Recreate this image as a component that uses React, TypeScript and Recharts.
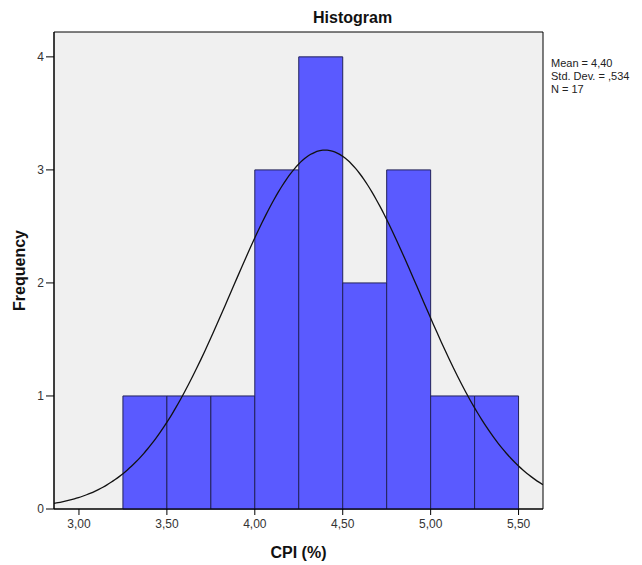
import React from "react";
import {
  ComposedChart,
  Line,
  XAxis,
  YAxis,
  ReferenceArea,
  Label,
} from "recharts";

// bin edges (lower bound) and frequencies, bin width 0.25
const binStarts = [3.25, 3.5, 3.75, 4.0, 4.25, 4.5, 4.75, 5.0, 5.25];
const binCounts = [1, 1, 1, 3, 4, 2, 3, 1, 1];
const binWidth = 0.25;

// summary statistics shown in the side legend
const mean = 4.4;
const stdDev = 0.534;
const n = 17;

const xTicks = [3.0, 3.5, 4.0, 4.5, 5.0, 5.5];
const yTicks = [0, 1, 2, 3, 4];
const xDomain: [number, number] = [2.858, 5.639];
const yMax = 4.22;

// normal curve scaled to counts: N * binWidth * pdf(x)
const curveXs: number[] = [];
for (let i = 0; i <= 120; i++) {
  curveXs.push(xDomain[0] + ((xDomain[1] - xDomain[0]) * i) / 120);
}
const curveData = curveXs.map((x) => {
  const z = (x - mean) / stdDev;
  return {
    x,
    y: (n * binWidth * Math.exp(-0.5 * z * z)) / (stdDev * Math.sqrt(2 * Math.PI)),
  };
});

const fmtComma = (v: number) => v.toFixed(2).replace(".", ",");

const FONT = "Arial, 'Liberation Sans', sans-serif";
const tickStyle = { fill: "#333", fontSize: 12, fontFamily: FONT };

export default function App() {
  return (
    <div style={{ position: "absolute", left: 0, top: 0, width: 642, height: 565, background: "#fff" }}>
      <div
        style={{
          position: "absolute",
          left: 313,
          top: 9,
          fontFamily: FONT,
          fontWeight: "bold",
          fontSize: 16,
          color: "#111",
        }}
      >
        Histogram
      </div>
      <div
        style={{
          position: "absolute",
          left: 551,
          top: 57,
          fontFamily: FONT,
          fontSize: 11,
          lineHeight: "13px",
          color: "#222",
          whiteSpace: "nowrap",
        }}
      >
        <div>Mean = {mean.toFixed(2).replace(".", ",")}</div>
        <div>Std. Dev. = {stdDev.toFixed(3).replace("0.", ",")}</div>
        <div>N = {n}</div>
      </div>
      <ComposedChart
        width={642}
        height={565}
        data={curveData}
        margin={{ top: 32, right: 99, bottom: 0, left: 0 }}
      >
        <XAxis
          type="number"
          dataKey="x"
          domain={xDomain}
          ticks={xTicks}
          allowDataOverflow
          tickFormatter={fmtComma}
          tick={tickStyle}
          tickLine={{ stroke: "#000" }}
          tickSize={6}
          tickMargin={4}
          axisLine={{ stroke: "#000" }}
          height={56}
        >
          <Label
            value="CPI (%)"
            position="insideBottom"
            offset={7}
            style={{ fontWeight: "bold", fontSize: 16, fill: "#111", fontFamily: FONT }}
          />
        </XAxis>
        <YAxis
          type="number"
          domain={[0, yMax]}
          ticks={yTicks}
          allowDataOverflow
          tick={tickStyle}
          tickLine={{ stroke: "#000" }}
          tickSize={8}
          tickMargin={2}
          axisLine={{ stroke: "#000" }}
          width={54}
        >
          <Label
            value="Frequency"
            angle={-90}
            position="insideLeft"
            offset={19}
            style={{ textAnchor: "middle", fontWeight: "bold", fontSize: 16, fill: "#111", fontFamily: FONT }}
          />
        </YAxis>
        <ReferenceArea
          x1={xDomain[0]}
          x2={xDomain[1]}
          y1={0}
          y2={yMax}
          fill="#f0f0f0"
          fillOpacity={1}
          stroke="#000"
          strokeWidth={1}
        />
        {binStarts.map((lo, i) => (
          <ReferenceArea
            key={lo}
            x1={lo}
            x2={lo + binWidth}
            y1={0}
            y2={binCounts[i]}
            fill="#5a5aff"
            fillOpacity={1}
            stroke="#22225a"
            strokeWidth={1}
          />
        ))}
        <Line
          type="monotone"
          dataKey="y"
          stroke="#111"
          strokeWidth={1.3}
          dot={false}
          activeDot={false}
          isAnimationActive={false}
        />
      </ComposedChart>
    </div>
  );
}
